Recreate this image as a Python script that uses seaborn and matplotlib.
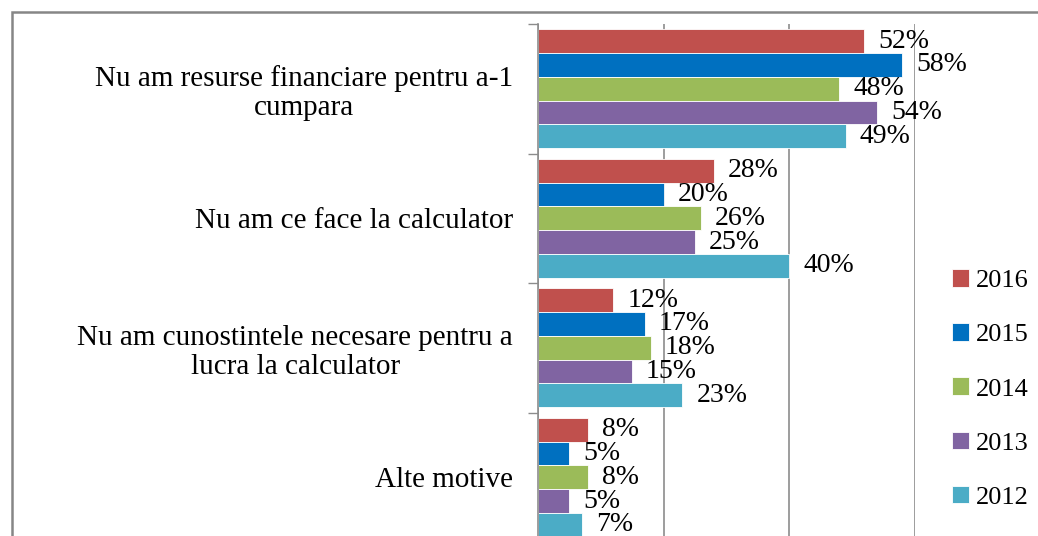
import numpy as np
import pandas as pd
import matplotlib
matplotlib.use("Agg")
import matplotlib.pyplot as plt
from matplotlib.patches import Patch, Rectangle
import seaborn as sns

categories = [
    "Nu am resurse financiare pentru a-1\ncumpara",
    "Nu am ce face la calculator",
    "Nu am cunostintele necesare pentru a\nlucra la calculator",
    "Alte motive",
]
years = ["2016", "2015", "2014", "2013", "2012"]
values_2016 = [52, 28, 12, 8]
values_2015 = [58, 20, 17, 5]
values_2014 = [48, 26, 18, 8]
values_2013 = [54, 25, 15, 5]
values_2012 = [49, 40, 23, 7]
colors = ["#C0504D", "#0070C0", "#9BBB59", "#8064A2", "#4BACC6"]

series = [values_2016, values_2015, values_2014, values_2013, values_2012]
rows = []
for year, vals in zip(years, series):
    for cat, v in zip(categories, vals):
        rows.append({"Motiv": cat, "An": year, "Procent": v})
df = pd.DataFrame(rows)

sns.set_style("white")
plt.rcParams["font.family"] = ["Liberation Serif", "DejaVu Serif"]
plt.rcParams["text.color"] = "black"
plt.rcParams["ytick.labelcolor"] = "black"

W, H = 1038, 536
fig = plt.figure(figsize=(W / 100, H / 100), dpi=100)
ax = fig.add_axes([538 / W, 1 - 542 / H, (914.7 - 538) / W, (542 - 24) / H])

palette = dict(zip(years, colors))
sns.barplot(data=df, y="Motiv", x="Procent", hue="An", order=categories,
            hue_order=years, palette=palette, orient="h", width=0.92,
            errorbar=None, edgecolor="white", linewidth=0.6, ax=ax,
            legend=False, saturation=1)

for cont in ax.containers:
    ax.bar_label(cont, labels=[f"{w.get_width():.0f}%" for w in cont],
                 padding=10, fontsize=20, color="black")

ax.set_xlim(0, 60)
ax.set_ylim(3.5, -0.5)
ax.set_xticks([0, 20, 40, 60])
ax.set_xticklabels([])
ax.tick_params(axis="x", length=0)
ax.grid(axis="x", color="#8C8C8C", linewidth=1.2)
ax.grid(axis="y", visible=False)
ax.set_xlabel("")
ax.set_ylabel("")

ax.set_yticks(np.arange(-0.5, 4, 1), minor=True)
ax.tick_params(axis="y", which="minor", length=7, width=1, color="#8C8C8C", left=True)
ax.tick_params(axis="y", which="major", length=0, pad=18, labelsize=21, labelcolor="black")
for lbl in ax.get_yticklabels():
    lbl.set_multialignment("center")
    lbl.set_linespacing(1.15)

for side in ["top", "right", "bottom"]:
    ax.spines[side].set_visible(False)
ax.spines["left"].set_color("#8C8C8C")
ax.spines["left"].set_linewidth(1.2)

handles = [Patch(facecolor=c, edgecolor="white", linewidth=0.6) for c in colors]
leg = fig.legend(handles, years, loc="center left", bbox_to_anchor=(952 / W, 1 - 389 / H),
                 frameon=False, fontsize=19, handlelength=0.65, handleheight=0.65,
                 handletextpad=0.25, labelspacing=1.175, borderpad=0, borderaxespad=0)
for t in leg.get_texts():
    t.set_color("black")

border = Rectangle((12 / W, -0.1), 1.2, 1.1 - 12 / H, transform=fig.transFigure,
                   fill=False, edgecolor="#868686", linewidth=1.8)
fig.patches.append(border)

fig.savefig("out.png", dpi=100)
